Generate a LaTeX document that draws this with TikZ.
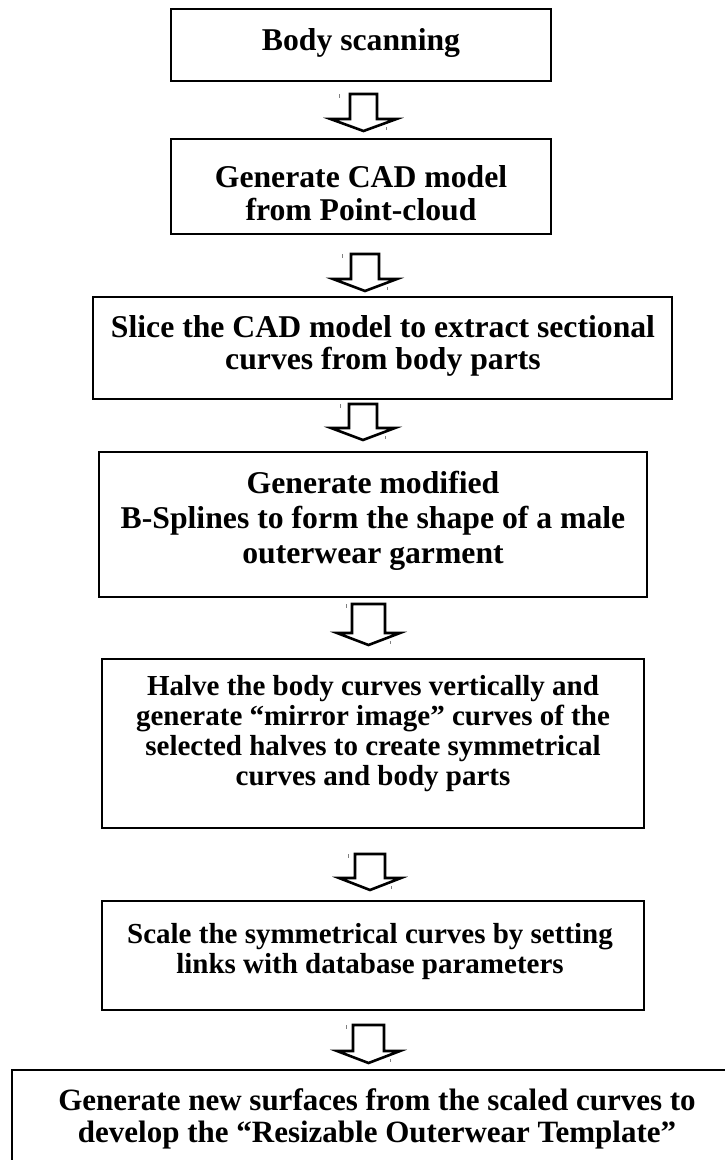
\documentclass[tikz,border=0pt]{standalone}
\usepackage{fontspec}
\setmainfont{Liberation Serif}
\usetikzlibrary{calc}

\newcommand{\bigtxt}{\fontsize{31.7}{33}\selectfont\bfseries}
\newcommand{\midtxt}{\fontsize{29}{30}\selectfont\bfseries}

\tikzset{
  stage/.style={draw, line width=2.4pt, inner sep=0pt},
  stagetext/.style={align=center, anchor=base, inner sep=0pt},
  blockline/.style={draw, line width=2.6pt, miter limit=10},
  tickline/.style={draw=gray, line width=0.9pt}
}

% outlined down arrow: top, tip, shaft half width, head half width
\newcommand{\blockarrow}[4]{%
  \draw[blockline] let \p1=(#1), \p2=(#2) in
    (\x1-#3pt,\y1) -- (\x1-#3pt,\y2+12pt) -- (\x1-#4pt,\y2+12pt) -- (\x1,\y2)
    -- (\x1+#4pt,\y2+12pt) -- (\x1+#3pt,\y2+12pt) -- (\x1+#3pt,\y1) -- cycle;
  \draw[tickline] let \p1=(#1), \p2=(#2) in
    (\x1-#4pt+9pt,\y1) -- (\x1-#4pt+9pt,\y1-4pt)
    (\x1+#4pt-10pt,\y2+4pt) -- (\x1+#4pt-10pt,\y2+1pt);
}

\begin{document}
\begin{tikzpicture}[x=1pt,y=-1pt]
    \clip (0,0) rectangle (725,1160);

    % Stage boxes
    \node[stage, minimum width=380pt, minimum height=72pt] (scan) at (361,45) {};
    \node[stage, minimum width=380pt, minimum height=95pt] (cad) at (361,186.5) {};
    \node[stage, minimum width=579pt, minimum height=102pt] (slice) at (382.5,348) {};
    \node[stage, minimum width=548pt, minimum height=145pt] (spline) at (373,524.5) {};
    \node[stage, minimum width=542pt, minimum height=169pt] (mirror) at (373,743.5) {};
    \node[stage, minimum width=542pt, minimum height=109pt] (scale) at (373,955.5) {};
    \node[stage, minimum width=730pt, minimum height=110pt] (surface) at (377,1125) {};

    % Stage texts (anchored on the last baseline)
    \node[stagetext, font=\bigtxt] (scan-t) at (361,50) {Body scanning};
    \node[stagetext, font=\bigtxt] (cad-t) at (361,220) {Generate CAD model\\from Point-cloud};
    \node[stagetext, font=\fontsize{31.7}{32}\selectfont\bfseries] (slice-t) at (383,369)
        {Slice the CAD model to extract sectional\\curves from body parts};
    \node[stagetext, font=\fontsize{31.7}{35}\selectfont\bfseries] (spline-t) at (373,563)
        {Generate modified\\B-Splines to form the shape of a male\\outerwear garment};
    \node[stagetext, font=\midtxt] (mirror-t) at (373,785)
        {Halve the body curves vertically and\\generate ``mirror image'' curves of the\\selected halves to create symmetrical\\curves and body parts};
    \node[stagetext, font=\fontsize{29}{30}\selectfont\bfseries] (scale-t) at (370,973)
        {Scale the symmetrical curves by setting\\links with database parameters};
    \node[stagetext, font=\fontsize{31}{32}\selectfont\bfseries] (surface-t) at (377,1142)
        {Generate new surfaces from the scaled curves to\\develop the ``Resizable Outerwear Template''};

    % Arrow ends
    \coordinate (a1s) at (363.5,94);   \coordinate (a1e) at (363.5,131);
    \coordinate (a2s) at (365,254);    \coordinate (a2e) at (365,291);
    \coordinate (a3s) at (363,404);    \coordinate (a3e) at (363,440);
    \coordinate (a4s) at (368.5,604);  \coordinate (a4e) at (368.5,645);
    \coordinate (a5s) at (370,854);    \coordinate (a5e) at (370,890);
    \coordinate (a6s) at (368.5,1025); \coordinate (a6e) at (368.5,1063);

    % Arrows
    \blockarrow{a1s}{a1e}{13.5}{33}
    \blockarrow{a2s}{a2e}{14}{32}
    \blockarrow{a3s}{a3e}{14}{32}
    \blockarrow{a4s}{a4e}{16.5}{31.5}
    \blockarrow{a5s}{a5e}{15}{31}
    \blockarrow{a6s}{a6e}{15.5}{31.5}

\end{tikzpicture}
\end{document}
